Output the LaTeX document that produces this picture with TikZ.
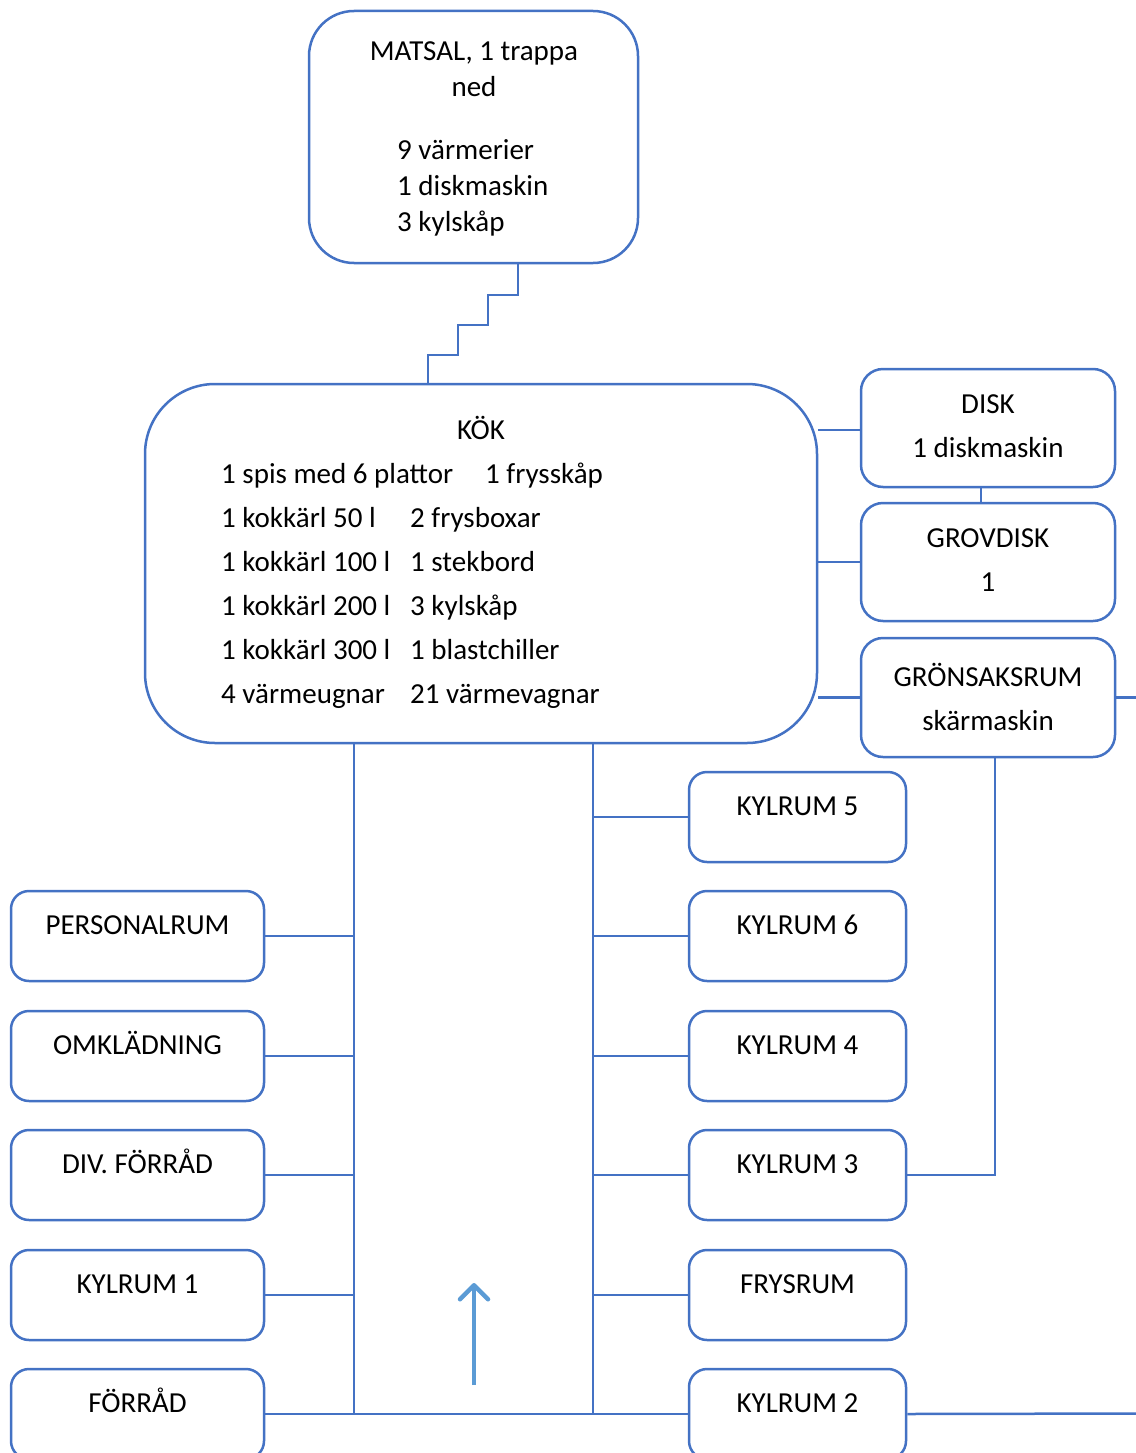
\documentclass[tikz,border=0pt]{standalone}
\usepackage{fontspec}
\setmainfont{Carlito}
\usetikzlibrary{arrows.meta}
\definecolor{lineblue}{HTML}{4472C4}
\definecolor{arrowblue}{HTML}{5B9BD5}
\newcommand{\fsz}{\fontsize{29pt}{36pt}\selectfont}
\begin{document}
\begin{tikzpicture}[x=1pt,y=-1pt,
  conn/.style={draw=lineblue, line width=2.5pt},
  roombox/.style={draw=lineblue, line width=2.5pt, fill=white, inner sep=0pt},
  smallbox/.style={roombox, rounded corners=18pt, minimum height=90pt, text height=43pt, text depth=47pt, font=\fsz},
  rightbox/.style={smallbox, minimum width=217pt},
  leftbox/.style={smallbox, minimum width=253pt},
  txt/.style={inner sep=0pt, font=\fsz},
  upar/.style={draw=arrowblue, line width=4.5pt, -{Straight Barb[length=14pt,width=28pt,round]}}
]
\useasboundingbox (0,0) rectangle (1135,1453);

% coordinates for trunks and free ends
\coordinate (lb) at (354,1413);
\coordinate (rb) at (593,1413);
\coordinate (gronR) at (1145,697.5);
\coordinate (kyl2R) at (1145,1413.5);
\coordinate (arrS) at (474,1385);
\coordinate (arrE) at (474,1283);

% main boxes
\node[roombox, rounded corners=45pt, minimum width=329pt, minimum height=252pt] (matsal) at (473.5,137) {};
\node[roombox, rounded corners=70pt, minimum width=672pt, minimum height=359pt] (kok) at (481,563.5) {};
\node[roombox, rounded corners=22pt, minimum width=254pt, minimum height=118pt] (disk) at (988,428) {};
\node[roombox, rounded corners=22pt, minimum width=254pt, minimum height=118pt] (grov) at (988,562) {};
\node[roombox, rounded corners=22pt, minimum width=254pt, minimum height=119pt] (gron) at (988,697.5) {};

% stairs
\draw[conn, line join=miter] (matsal.south -| 518,0) -- (518,295) -- (488,295) -- (488,325) -- (458,325) -- (458,355) -- (428,355) -- (428,384) -- (400,384);

% right side connectors
\draw[conn] (kok.east |- 0,430) -- (disk.west |- 0,430);
\draw[conn] (disk.south -| 981,0) -- (grov.north -| 981,0);
\draw[conn] (kok.east |- grov.west) -- (grov.west);
\draw[conn] (kok.east |- gron.west) -- (gron.west);
\draw[conn] (gron.east) -- (gronR);

% trunks
\draw[conn] (kok.south -| lb) -- (lb);
\draw[conn] (kok.south -| rb) -- (rb);

% right rooms
\node[rightbox] (k5) at (797.5,817) {KYLRUM 5};
\node[rightbox] (k6) at (797.5,936) {KYLRUM 6};
\node[rightbox] (k4) at (797.5,1056) {KYLRUM 4};
\node[rightbox] (k3) at (797.5,1175) {KYLRUM 3};
\node[rightbox] (fr) at (797.5,1295) {FRYSRUM};
\node[rightbox] (k2) at (797.5,1414) {KYLRUM 2};

% left rooms
\node[leftbox] (pers) at (137.5,936) {PERSONALRUM};
\node[leftbox] (omk) at (137.5,1056) {OMKLÄDNING};
\node[leftbox] (div) at (137.5,1175) {DIV. FÖRRÅD};
\node[leftbox] (k1) at (137.5,1295) {KYLRUM 1};
\node[leftbox] (forr) at (137.5,1414) {FÖRRÅD};

% branches
\foreach \n in {k5,k6,k4,k3,fr} \draw[conn] (\n.west -| rb) -- (\n.west);
\foreach \n in {pers,omk,div,k1} \draw[conn] (\n.east) -- (\n.east -| lb);
\draw[conn] (forr.east) -- (k2.west);
\draw[conn] (k2.east) -- (kyl2R);
\draw[conn] (gron.south -| 995,0) |- (k3.east);

% arrow
\draw[upar] (arrS) -- (arrE);

% MATSAL text
\node[txt, anchor=base] (m1) at (474,61) {MATSAL, 1 trappa};
\node[txt, anchor=base] (m2) at (474,97) {ned};
\node[txt, anchor=base west] (m3) at (397,159) {9 värmerier};
\node[txt, anchor=base west] (m4) at (397,195) {1 diskmaskin};
\node[txt, anchor=base west] (m5) at (397,231) {3 kylskåp};

% KÖK text
\node[txt, anchor=base] (kt) at (481,439) {KÖK};
\node[txt, anchor=base west] (a1) at (221,483) {1 spis med 6 plattor};
\node[txt, anchor=base west] (b1) at (485,483) {1 frysskåp};
\node[txt, anchor=base west] (a2) at (221,527) {1 kokkärl 50 l};
\node[txt, anchor=base west] (b2) at (410,527) {2 frysboxar};
\node[txt, anchor=base west] (a3) at (221,571) {1 kokkärl 100 l};
\node[txt, anchor=base west] (b3) at (410,571) {1 stekbord};
\node[txt, anchor=base west] (a4) at (221,615) {1 kokkärl 200 l};
\node[txt, anchor=base west] (b4) at (410,615) {3 kylskåp};
\node[txt, anchor=base west] (a5) at (221,659) {1 kokkärl 300 l};
\node[txt, anchor=base west] (b5) at (410,659) {1 blastchiller};
\node[txt, anchor=base west] (a6) at (221,703) {4 värmeugnar};
\node[txt, anchor=base west] (b6) at (410,703) {21 värmevagnar};

% right column texts
\node[txt, anchor=base] (d1) at (988,413) {DISK};
\node[txt, anchor=base] (d2) at (988,457) {1 diskmaskin};
\node[txt, anchor=base] (g1) at (988,547) {GROVDISK};
\node[txt, anchor=base] (g2) at (988,591) {1};
\node[txt, anchor=base] (s1) at (988,686) {GRÖNSAKSRUM};
\node[txt, anchor=base] (s2) at (988,730) {skärmaskin};
\end{tikzpicture}
\end{document}
